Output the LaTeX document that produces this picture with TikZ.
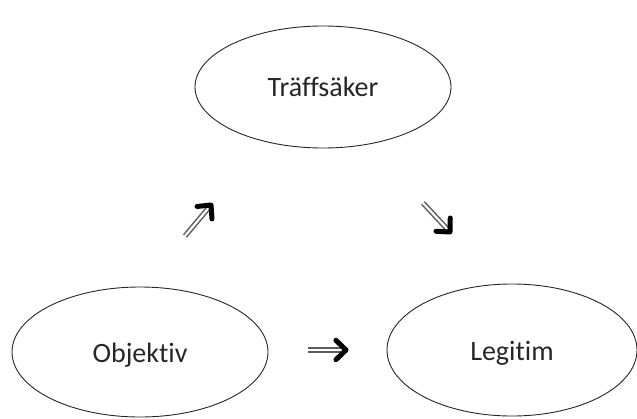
\documentclass[tikz,border=0pt]{standalone}
\usepackage{fontspec}
\setmainfont[Ligatures=NoCommon]{Carlito}
\usetikzlibrary{shapes.geometric,calc}
\definecolor{ink}{HTML}{262626}
\tikzset{
  oval/.style={ellipse, draw=ink, line width=0.9pt, inner sep=0pt,
    font=\fontsize{28}{30}\selectfont, text=ink},
  lowtext/.style={text height=27pt, text depth=6pt},
  shaft/.style={draw=ink!75, line width=1.5pt, double=white, double distance=2.2pt},
  tiphead/.style={draw=black, line width=5pt, line cap=round, line join=round}
}
\begin{document}
\begin{tikzpicture}[x=1pt,y=-1pt]
\useasboundingbox (0,0) rectangle (637,418);
\node[oval, minimum width=256pt, minimum height=122pt] (T) at (323,87) {Träffsäker};
\node[oval, lowtext, minimum width=256pt, minimum height=130pt] (O) at (140,352) {Objektiv};
\node[oval, lowtext, minimum width=250pt, minimum height=132pt] (L) at (512,350) {Legitim};
% free-standing arrows
\coordinate (a1t) at (185,236);
\coordinate (a1h) at (211,205);
\coordinate (a2t) at (423,203);
\coordinate (a2h) at (450,232);
\coordinate (a3t) at (308,350);
\coordinate (a3h) at (346,350);
\foreach \t/\h in {a1t/a1h, a2t/a2h, a3t/a3h}{
  \draw[shaft] (\t) -- ($(\h)!4pt!(\t)$);
  \draw[tiphead] ($(\h)!14pt!44:(\t)$) -- (\h) -- ($(\h)!14pt!-44:(\t)$);
}
\end{tikzpicture}
\end{document}
